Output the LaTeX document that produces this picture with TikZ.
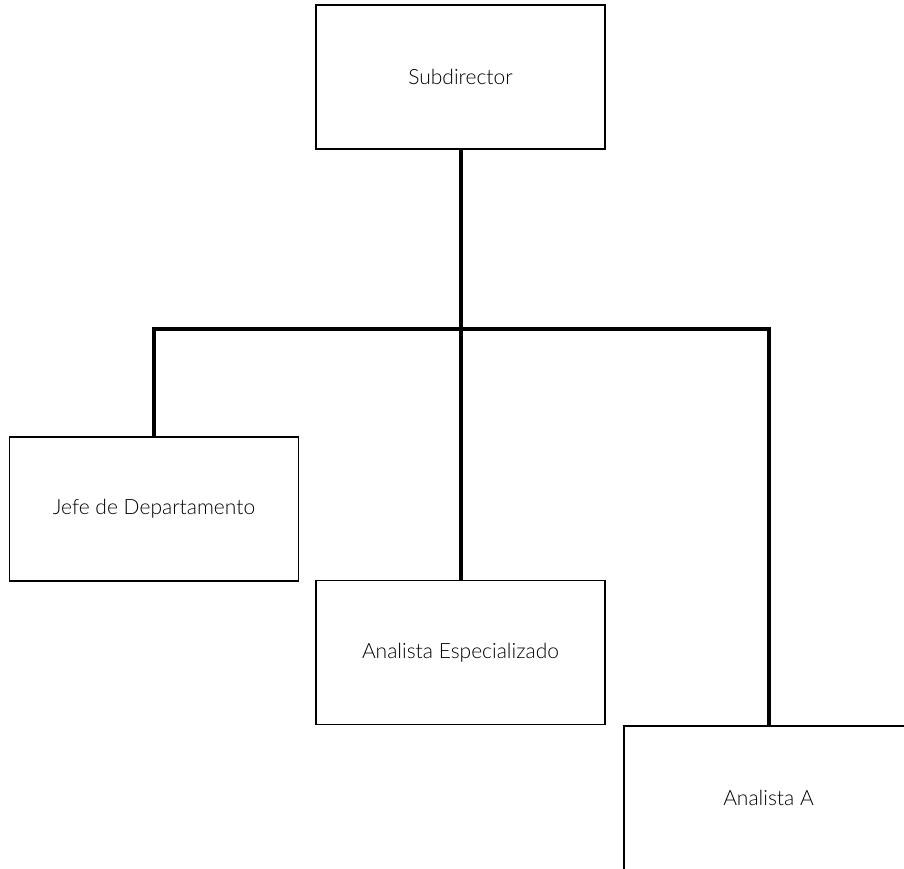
\documentclass[tikz,border=0pt]{standalone}
\usepackage{fontspec}
\setmainfont{Lato}[UprightFont={* Light}]
\begin{document}
\begin{tikzpicture}[x=1pt,y=-1pt,
  box/.style={draw=black,line width=1.8pt,fill=white,minimum width=289pt,minimum height=144pt,inner sep=0pt,font=\fontsize{21}{24}\selectfont,text=black},
  conn/.style={draw=black,line width=4pt,line join=miter}]
\useasboundingbox (0,0) rectangle (904,868);
\clip (0,0) rectangle (904,868);
\node[box] (sub) at (460.5,77) {Subdirector};
\node[box] (jefe) at (154,509) {Jefe de Departamento};
\node[box] (esp) at (460.5,652.5) {Analista Especializado};
\node[box] (ana) at (768.5,798) {Analista A};
\coordinate (j) at (460.5,329);
\draw[conn] (sub.south) -- (j);
\draw[conn] (jefe.north) |- (j) -| (ana.north);
\draw[conn] (j) -- (esp.north);
\end{tikzpicture}
\end{document}
